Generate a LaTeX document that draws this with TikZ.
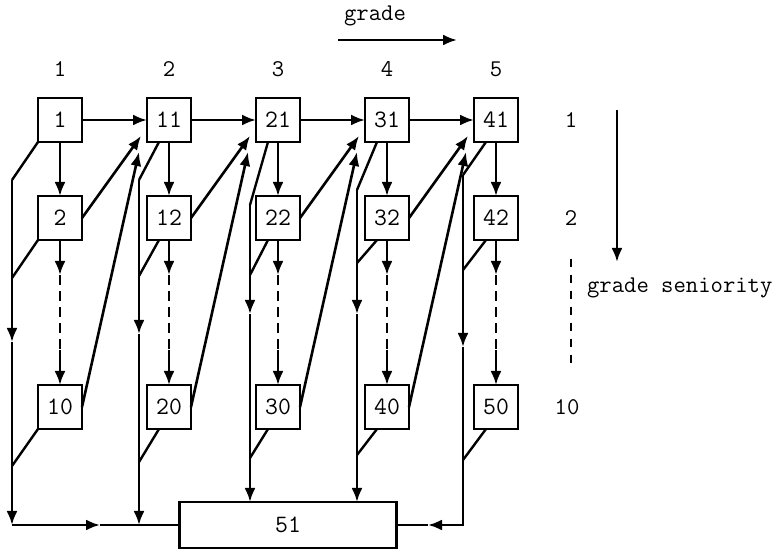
\documentclass[tikz,border=0pt]{standalone}
\usetikzlibrary{arrows.meta,positioning}

\begin{document}
\begin{tikzpicture}[
    x=0.5pt,y=-0.5pt,
    font=\fontsize{12}{14}\selectfont\ttfamily,
    node distance=27pt and 32.5pt,
    gradebox/.style={rectangle,draw,line width=1.4pt,minimum size=22pt,inner sep=0pt,outer sep=0pt,font=\fontsize{12.5}{14}\selectfont\ttfamily},
    exitbox/.style={rectangle,draw,line width=1.4pt,minimum width=108.5pt,minimum height=23pt,inner sep=0pt,outer sep=0pt,font=\fontsize{12.5}{14}\selectfont\ttfamily},
    arr/.style={-{Latex[length=7pt,width=5.5pt]},line width=1.3pt},
    ln/.style={line width=1.2pt},
    dashline/.style={line width=1.3pt,dash pattern=on 5pt off 3pt}
]
\useasboundingbox (0,0) rectangle (783,550);

% grade 1..5, top row
\node[gradebox] (b1) at (60,120) {1};
\node[gradebox,right=of b1] (b11) {11};
\node[gradebox,right=of b11] (b21) {21};
\node[gradebox,right=of b21] (b31) {31};
\node[gradebox,right=of b31] (b41) {41};
% seniority 2
\node[gradebox,below=of b1] (b2) {2};
\node[gradebox,below=of b11] (b12) {12};
\node[gradebox,below=of b21] (b22) {22};
\node[gradebox,below=of b31] (b32) {32};
\node[gradebox,below=of b41] (b42) {42};
% seniority 10
\node[gradebox,below=72.5pt of b2] (b10) {10};
\node[gradebox,below=72.5pt of b12] (b20) {20};
\node[gradebox,below=72.5pt of b22] (b30) {30};
\node[gradebox,below=72.5pt of b32] (b40) {40};
\node[gradebox,below=72.5pt of b42] (b50) {50};
\node[exitbox] (b51) at (288,525) {51};

% axis labels
\node[above=7pt of b1] (g1) {1};
\node[above=7pt of b11] (g2) {2};
\node[above=7pt of b21] (g3) {3};
\node[above=7pt of b31] (g4) {4};
\node[above=7pt of b41] (g5) {5};
\node (r1) at (571,120) {1};
\node (r2) at (571,218) {2};
\node (r10) at (567,407) {10};
\node (grade) at (375,16) {grade};
\node[anchor=west] (sen) at (580,288) {grade seniority};
\coordinate (ga) at (338,40);
\coordinate (gb) at (457,40);
\coordinate (sa) at (617,110);
\coordinate (sb) at (617,262);
\draw[arr] (ga) -- (gb);
\draw[arr] (sa) -- (sb);
\draw[ln,dash pattern=on 4pt off 4pt,shorten <=13pt,shorten >=12pt] (r2.south) -- (r2.south |- r10.north);

% promotion along the top row
\draw[arr] (b1) -- (b11); \draw[arr] (b11) -- (b21);
\draw[arr] (b21) -- (b31); \draw[arr] (b31) -- (b41);

% seniority within a grade
\coordinate[below=17.5pt of b2] (d2);  \coordinate[above=17.5pt of b10] (e10);
\coordinate[below=17.5pt of b12] (d12); \coordinate[above=17.5pt of b20] (e20);
\coordinate[below=17.5pt of b22] (d22); \coordinate[above=17.5pt of b30] (e30);
\coordinate[below=17.5pt of b32] (d32); \coordinate[above=17.5pt of b40] (e40);
\coordinate[below=17.5pt of b42] (d42); \coordinate[above=17.5pt of b50] (e50);
\draw[arr] (b1) -- (b2);   \draw[arr] (b2) -- (d2);   \draw[dashline] (d2) -- (e10);  \draw[arr] (e10) -- (b10);
\draw[arr] (b11) -- (b12); \draw[arr] (b12) -- (d12); \draw[dashline] (d12) -- (e20); \draw[arr] (e20) -- (b20);
\draw[arr] (b21) -- (b22); \draw[arr] (b22) -- (d22); \draw[dashline] (d22) -- (e30); \draw[arr] (e30) -- (b30);
\draw[arr] (b31) -- (b32); \draw[arr] (b32) -- (d32); \draw[dashline] (d32) -- (e40); \draw[arr] (e40) -- (b40);
\draw[arr] (b41) -- (b42); \draw[arr] (b42) -- (d42); \draw[dashline] (d42) -- (e50); \draw[arr] (e50) -- (b50);

% promotion into the next grade
\draw[arr] (b2.east) -- ([shift={(-3pt,3pt)}]b11.south west);
\draw[arr] (b10.east) -- ([shift={(-4pt,-5pt)}]b11.south west);
\draw[arr] (b12.east) -- ([shift={(-3pt,3pt)}]b21.south west);
\draw[arr] (b20.east) -- ([shift={(-4pt,-5pt)}]b21.south west);
\draw[arr] (b22.east) -- ([shift={(-3pt,3pt)}]b31.south west);
\draw[arr] (b30.east) -- ([shift={(-4pt,-5pt)}]b31.south west);
\draw[arr] (b32.east) -- ([shift={(-3pt,3pt)}]b41.south west);
\draw[arr] (b40.east) -- ([shift={(-4pt,-5pt)}]b41.south west);

% leavers, grade 1
\coordinate (v1a) at (12,180); \coordinate (v1m) at (12,342);
\coordinate (v1c) at (12,525); \coordinate (h1) at (100,525);
\draw[ln] (b1.south west) -- (v1a);
\draw[ln] (b2.south west) -- (12,278);
\draw[ln] (b10.south west) -- (12,466);
\draw[arr] (v1a) -- (v1m); \draw[arr] (v1m) -- (v1c);
\draw[arr] (v1c) -- (h1); \draw[ln] (h1) -- (b51.west);
% leavers, grade 2
\coordinate (v2a) at (139,180); \coordinate (v2m) at (139,334);
\coordinate (v2c) at (139,525);
\draw[ln] ([xshift=6pt]b11.south west) -- (v2a);
\draw[ln] ([xshift=6pt]b12.south west) -- (139,276);
\draw[ln] ([xshift=6pt]b20.south west) -- (139,462);
\draw[arr] (v2a) -- (v2m); \draw[arr] (v2m) -- (v2c);
% leavers, grade 3
\coordinate (v3a) at (250,205); \coordinate (v3m) at (250,314);
\draw[ln] ([xshift=6pt]b21.south west) -- (v3a);
\draw[ln] ([xshift=6pt]b22.south west) -- (250,275);
\draw[ln] ([xshift=6pt]b30.south west) -- (250,458);
\draw[arr] (v3a) -- (v3m); \draw[arr] (v3m) -- (v3a |- b51.north);
% leavers, grade 4
\coordinate (v4a) at (357,190); \coordinate (v4m) at (357,314);
\draw[ln] ([xshift=6pt]b31.south west) -- (v4a);
\draw[ln] ([xshift=6pt]b32.south west) -- (357,263);
\draw[ln] ([xshift=6pt]b40.south west) -- (357,455);
\draw[arr] (v4a) -- (v4m); \draw[arr] (v4m) -- (v4a |- b51.north);
% leavers, grade 5
\coordinate (v5a) at (463,175); \coordinate (v5m) at (463,347);
\coordinate (v5c) at (463,525); \coordinate (h5) at (428,525);
\draw[ln] ([xshift=6pt]b41.south west) -- (v5a);
\draw[ln] ([xshift=6pt]b42.south west) -- (463,270);
\draw[ln] ([xshift=6pt]b50.south west) -- (463,460);
\draw[arr] (v5a) -- (v5m); \draw[arr] (v5m) -- (v5c) -- (h5);
\draw[ln] (h5) -- (b51.east);
\end{tikzpicture}
\end{document}
